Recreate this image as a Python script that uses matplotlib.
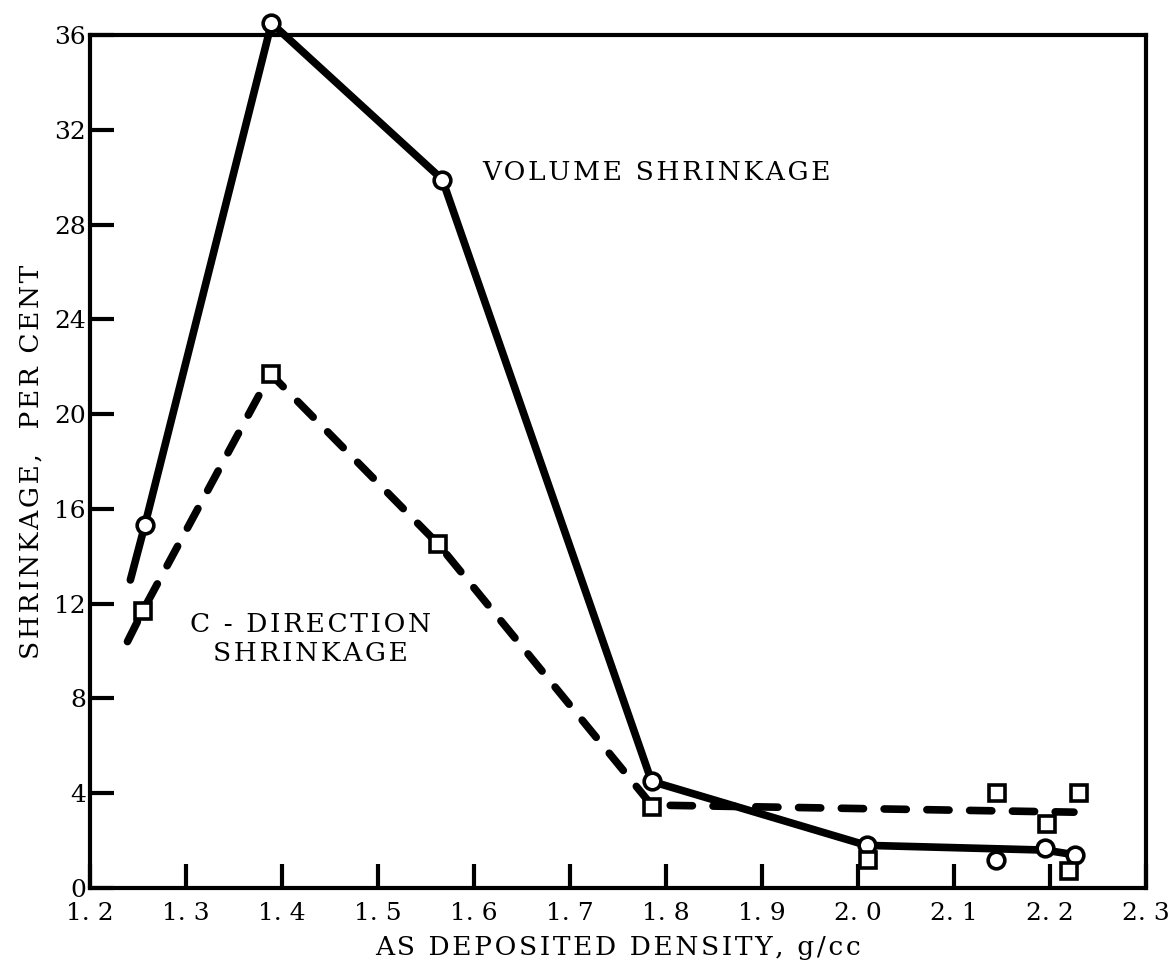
import matplotlib
matplotlib.use("Agg")
import matplotlib.pyplot as plt

# line traces (hand drawn curves in the original)
vol_line_x = [1.242, 1.257, 1.389, 1.567, 1.785, 2.009, 2.195, 2.226]
vol_line_y = [13.0, 15.3, 36.5, 29.9, 4.5, 1.8, 1.6, 1.4]
c_line_x = [1.239, 1.255, 1.388, 1.563, 1.785, 2.225]
c_line_y = [10.4, 11.7, 21.7, 14.5, 3.5, 3.2]

# measured points
vol_pts_x = [1.257, 1.389, 1.567, 1.785, 2.009, 2.144, 2.195, 2.226]
vol_pts_y = [15.3, 36.5, 29.9, 4.5, 1.8, 1.2, 1.7, 1.4]
c_pts_x = [1.255, 1.388, 1.563, 1.785, 2.010, 2.145, 2.197, 2.220, 2.230]
c_pts_y = [11.7, 21.7, 14.5, 3.4, 1.2, 4.0, 2.7, 0.7, 4.0]

x_ticks = [1.2, 1.3, 1.4, 1.5, 1.6, 1.7, 1.8, 1.9, 2.0, 2.1, 2.2, 2.3]
x_labels = ["1. 2", "1. 3", "1. 4", "1. 5", "1. 6", "1. 7", "1. 8", "1. 9",
            "2. 0", "2. 1", "2. 2", "2. 3"]
y_ticks = [0, 4, 8, 12, 16, 20, 24, 28, 32, 36]
y_labels = ["0", "4", "8", "12", "16", "20", "24", "28", "32", "36"]

plt.rcParams['font.family'] = ['DejaVu Serif']


def spaced(s):
    # widen lettering a little, like the old typed labels
    return "\u200a".join(s)


fig = plt.figure(figsize=(11.71, 9.69), dpi=100)
ax = fig.add_axes([0.0769, 0.0836, 0.9017, 0.8803])

# lines
ax.plot(vol_line_x, vol_line_y, color='black', lw=5.5, solid_capstyle='round',
        clip_on=False, zorder=3)
ax.plot(c_line_x, c_line_y, color='black', lw=5.5, dashes=(2.9, 2.7),
        dash_capstyle='round', clip_on=False, zorder=3)

# markers
ax.plot(vol_pts_x, vol_pts_y, 'o', ms=12, mfc='white', mec='black', mew=2.6,
        clip_on=False, zorder=5, ls='none')
ax.plot(c_pts_x, c_pts_y, 's', ms=11, mfc='white', mec='black', mew=2.6,
        clip_on=False, zorder=5, ls='none')

ax.set_xlim(1.2, 2.3)
ax.set_ylim(0, 36)

ax.set_xticks(x_ticks)
ax.set_xticklabels(x_labels)
ax.set_yticks(y_ticks)
ax.set_yticklabels(y_labels)
ax.tick_params(direction='in', length=17, width=3, labelsize=18,
               top=False, right=False)
ax.tick_params(axis='x', pad=10)
ax.tick_params(axis='y', pad=3)

for s in ax.spines.values():
    s.set_linewidth(3)

ax.set_xlabel(spaced("AS DEPOSITED DENSITY, g/cc"), fontsize=19, labelpad=7)
ax.set_ylabel(spaced("SHRINKAGE,  PER CENT"), fontsize=19, labelpad=8)

ax.text(1.609, 30.2, spaced("VOLUME SHRINKAGE"), fontsize=19, ha='left',
        va='center')
ax.text(1.43, 10.5, spaced("C - DIRECTION") + "\n" + spaced("SHRINKAGE"),
        fontsize=19, ha='center', va='center', linespacing=1.2)

fig.savefig("out.png", dpi=100)
